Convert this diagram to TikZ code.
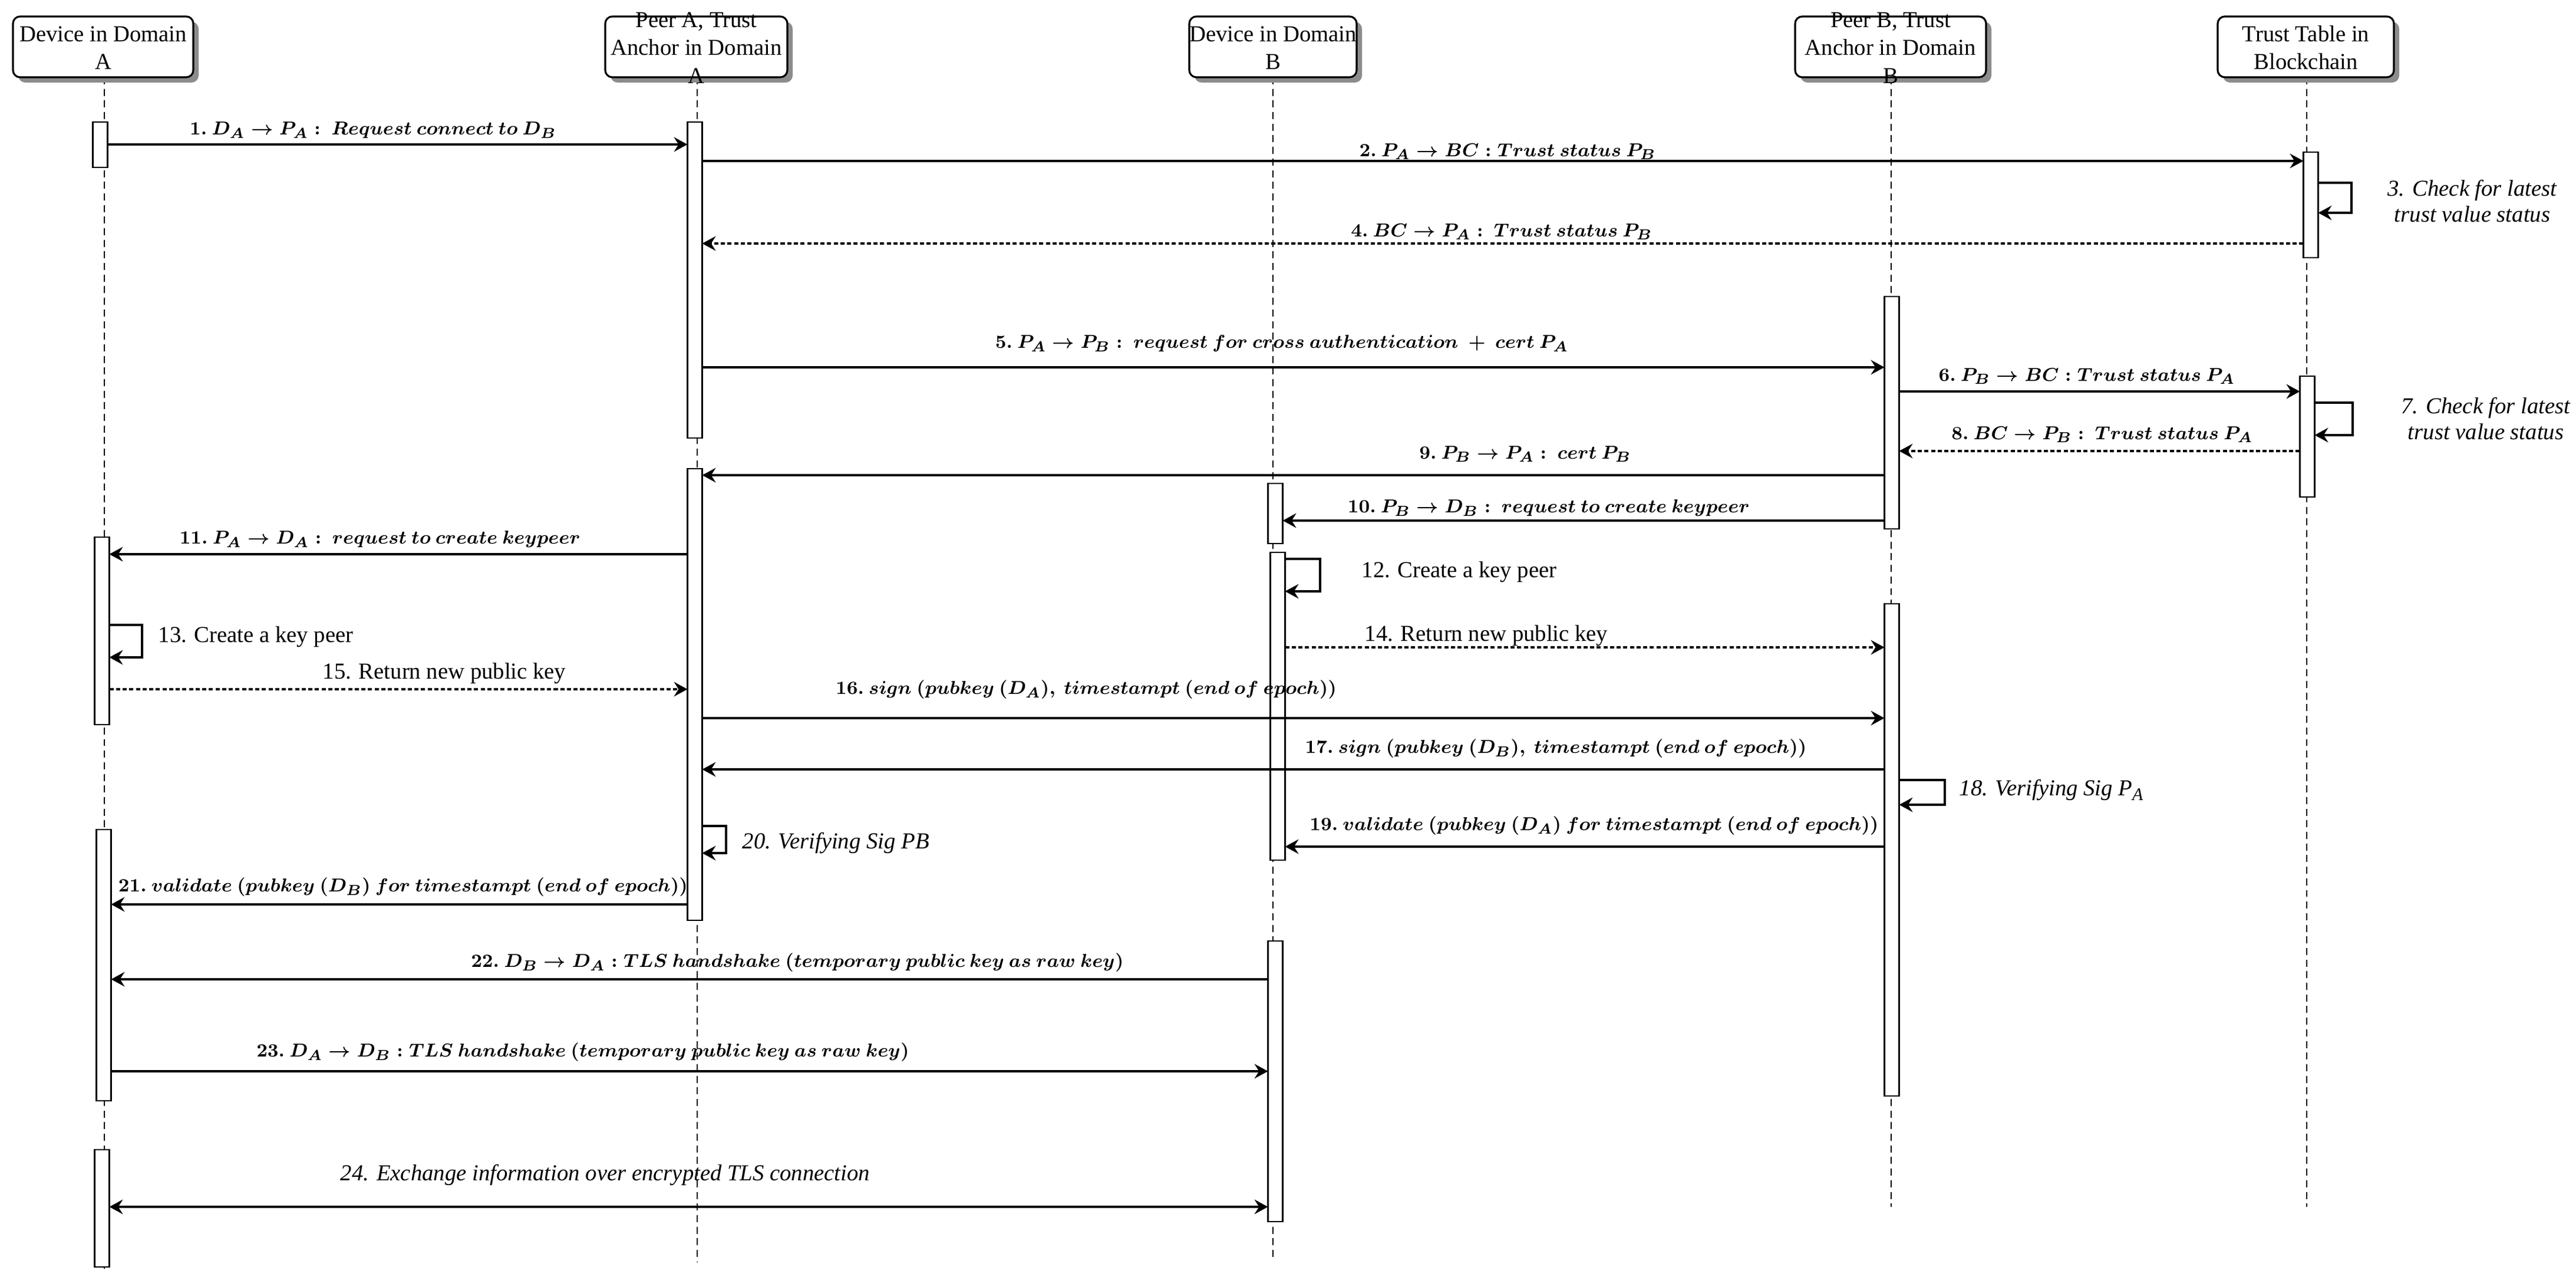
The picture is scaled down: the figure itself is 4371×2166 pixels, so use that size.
\documentclass[tikz,border=0pt]{standalone}
\usepackage[no-math]{fontspec}
\setmainfont{Liberation Serif}
\usetikzlibrary{arrows.meta,shadows}
\tikzset{
  basefont/.style={font=\fontsize{11}{13.5}\selectfont},
  hdbox/.style={draw, line width=0.9pt, rounded corners=0.12cm, fill=white,
    minimum height=1.03cm, inner sep=0pt,
    drop shadow={shadow xshift=0.09cm, shadow yshift=-0.09cm, fill=black!45, opacity=1}},
  hdtext/.style={basefont, align=center, inner sep=0pt},
  lifeline/.style={line width=0.45pt, dash pattern=on 3.4pt off 2.2pt},
  actbox/.style={draw, fill=white, line width=0.6pt, minimum width=0.25cm, inner sep=0pt, outer sep=0pt},
  >={Stealth[length=6.5pt,width=7pt,inset=2.2pt]},
  msg/.style={line width=0.9pt, ->},
  ret/.style={line width=0.9pt, ->, dash pattern=on 2pt off 1.2pt},
  twoway/.style={line width=0.9pt, <->},
  lbl/.style={basefont, inner sep=0pt},
  mlbl/.style={font=\fontsize{9.3}{11}\selectfont, inner sep=0pt},
  ilbl/.style={font=\fontsize{11}{12.5}\selectfont\itshape, inner sep=0pt, align=center},
}
\newcommand\hdr[4]{%
  \node[hdbox, minimum width={(#3-#2)*0.01cm}] (#1) at ({(#2+#3)/2},79.5) {};
  \node[hdtext] (#1t) at ({(#2+#3)/2},81) {#4};}
\newcommand\actv[4]{%
  \node[actbox, minimum height={(#4-#3)*0.01cm}] (#1) at (#2,{(#3+#4)/2}) {};}
\newcommand\ml[1]{{\boldmath$#1$}}
\begin{document}
\begin{tikzpicture}[x=0.01cm,y=-0.01cm]
\useasboundingbox[fill=white] (0,0) rectangle (4371,2166);
\coordinate (eA) at (177,2153);
\coordinate (ePA) at (1183,2140);
\coordinate (eB) at (2160,2137);
\coordinate (ePB) at (3209,2047);
\coordinate (eBC) at (3914,2047);
\draw[lifeline] (177,131) -- (eA);
\draw[lifeline] (1183,131) -- (ePA);
\draw[lifeline] (2160,131) -- (eB);
\draw[lifeline] (3209,131) -- (ePB);
\draw[lifeline] (3914,131) -- (eBC);
\hdr{hdA}{22}{328}{Device in Domain\\A}
\hdr{hdPA}{1027}{1336}{Peer A, Trust\\Anchor in Domain\\A}
\hdr{hdB}{2018}{2302}{Device in Domain\\B}
\hdr{hdPB}{3046}{3370}{Peer B, Trust\\Anchor in Domain\\B}
\hdr{hdBC}{3763}{4062}{Trust Table in\\Blockchain}
\actv{da1}{170}{207}{284}
\actv{da2}{173}{911}{1229}
\actv{da3}{176}{1407}{1867}
\actv{da4}{173}{1950}{2149}
\actv{pa1}{1179}{207}{743}
\actv{pa2}{1179}{795}{1561}
\actv{db1}{2164}{820}{922}
\actv{db2}{2168}{937}{1459}
\actv{db3}{2164}{1596}{2072}
\actv{pb1}{3210}{503}{897}
\actv{pb2}{3210}{1024}{1859}
\actv{bc1}{3921}{258}{437}
\actv{bc2}{3915}{638}{843}
\draw[msg] (da1.east |- 0,245) -- (pa1.west |- 0,245);
\draw[msg] (pa1.east |- 0,273) -- (bc1.west |- 0,273);
\draw[msg] (bc1.east |- 0,310) -- (3990,310) -- (3990,361) -- (bc1.east |- 0,361);
\draw[ret] (bc1.west |- 0,413) -- (pa1.east |- 0,413);
\draw[msg] (pa1.east |- 0,623) -- (pb1.west |- 0,623);
\draw[msg] (pb1.east |- 0,664) -- (bc2.west |- 0,664);
\draw[msg] (bc2.east |- 0,683) -- (3992,683) -- (3992,738) -- (bc2.east |- 0,738);
\draw[ret] (bc2.west |- 0,765) -- (pb1.east |- 0,765);
\draw[msg] (pb1.west |- 0,806) -- (pa2.east |- 0,806);
\draw[msg] (pb1.west |- 0,883) -- (db1.east |- 0,883);
\draw[msg] (pa2.west |- 0,940) -- (da2.east |- 0,940);
\draw[msg] (db2.east |- 0,948) -- (2240,948) -- (2240,1003) -- (db2.east |- 0,1003);
\draw[msg] (da2.east |- 0,1060) -- (241,1060) -- (241,1115) -- (da2.east |- 0,1115);
\draw[ret] (db2.east |- 0,1098) -- (pb2.west |- 0,1098);
\draw[ret] (da2.east |- 0,1169) -- (pa2.west |- 0,1169);
\draw[msg] (pa2.east |- 0,1218) -- (pb2.west |- 0,1218);
\draw[msg] (pb2.west |- 0,1305) -- (pa2.east |- 0,1305);
\draw[msg] (pb2.east |- 0,1323) -- (3300,1323) -- (3300,1365) -- (pb2.east |- 0,1365);
\draw[msg] (pb2.west |- 0,1436) -- (db2.east |- 0,1436);
\draw[msg] (pa2.east |- 0,1401) -- (1232,1401) -- (1232,1447) -- (pa2.east |- 0,1447);
\draw[msg] (pa2.west |- 0,1534) -- (da3.east |- 0,1534);
\draw[msg] (db3.west |- 0,1661) -- (da3.east |- 0,1661);
\draw[msg] (da3.east |- 0,1817) -- (db3.west |- 0,1817);
\draw[twoway] (da4.east |- 0,2047) -- (db3.west |- 0,2047);
\node[lbl, anchor=west] (l12) at (2310,970) {12. Create a key peer};
\node[lbl, anchor=west] (l13) at (268,1080) {13. Create a key peer};
\node[lbl, anchor=west] (l14) at (2315,1078) {14. Return new public key};
\node[lbl] (l15) at (754,1142) {15. Return new public key};
\node[ilbl] (l3) at (4195,341) {3. Check for latest\\trust value status};
\node[ilbl] (l7) at (4218,710) {7. Check for latest\\trust value status};
\node[ilbl, anchor=west] (l20) at (1259,1430) {20. Verifying Sig PB};
\node[ilbl] (l24) at (1027,1993) {24. Exchange information over encrypted TLS connection};
\node[ilbl, anchor=west] (l18) at (3324,1340) {18. Verifying Sig P\raisebox{-0.45ex}{\fontsize{8.5}{9}\selectfont A}};
\node[mlbl] (l1) at (633,221) {\ml{1.\ D_A\rightarrow P_A:\ Request\ connect\ to\ D_B}};
\node[mlbl] (l2) at (2558,257) {\ml{2.\ P_A\rightarrow BC: Trust\ status\ P_B}};
\node[mlbl] (l4) at (2548,393) {\ml{4.\ BC\rightarrow P_A:\ Trust\ status\ P_B}};
\node[mlbl] (l5) at (2175,583) {\ml{5.\ P_A\rightarrow P_B:\ request\ for\ cross\ authentication\ +\ cert\ P_A}};
\node[mlbl] (l6) at (3541,638) {\ml{6.\ P_B\rightarrow BC: Trust\ status\ P_A}};
\node[mlbl] (l8) at (3567,737) {\ml{8.\ BC\rightarrow P_B:\ Trust\ status\ P_A}};
\node[mlbl] (l9) at (2588,770) {\ml{9.\ P_B\rightarrow P_A:\ cert\ P_B}};
\node[mlbl] (l10) at (2628,862) {\ml{10.\ P_B\rightarrow D_B:\ request\ to\ create\ keypeer}};
\node[mlbl] (l11) at (645,915) {\ml{11.\ P_A\rightarrow D_A:\ request\ to\ create\ keypeer}};
\node[mlbl] (l16) at (1843,1170) {\ml{16.\ sign\ (pubkey\ (D_A),\ timestampt\ (end\ of\ epoch))}};
\node[mlbl] (l17) at (2640,1270) {\ml{17.\ sign\ (pubkey\ (D_B),\ timestampt\ (end\ of\ epoch))}};
\node[mlbl] (l19) at (2705,1401) {\ml{19.\ validate\ (pubkey\ (D_A)\ for\ timestampt\ (end\ of\ epoch))}};
\node[mlbl] (l21) at (684,1505) {\ml{21.\ validate\ (pubkey\ (D_B)\ for\ timestampt\ (end\ of\ epoch))}};
\node[mlbl] (l22) at (1353,1633) {\ml{22.\ D_B\rightarrow D_A: TLS\ handshake\ (temporary\ public\ key\ as\ raw\ key)}};
\node[mlbl] (l23) at (989,1785) {\ml{23.\ D_A\rightarrow D_B: TLS\ handshake\ (temporary\ public\ key\ as\ raw\ key)}};
\end{tikzpicture}
\end{document}
